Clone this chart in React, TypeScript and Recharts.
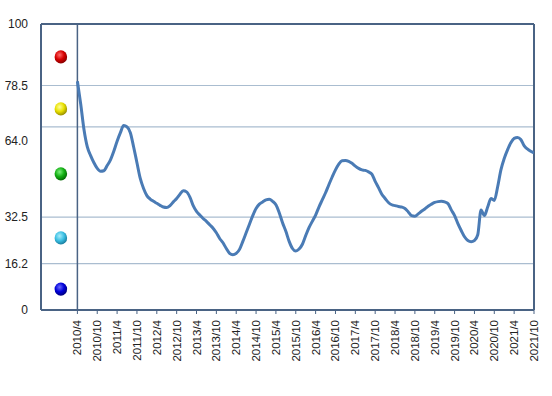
import { ComposedChart, Line, XAxis, YAxis, CartesianGrid, ReferenceLine, ReferenceDot } from 'recharts'

const FONT = "'Liberation Sans', Arial, sans-serif"
const FRAME = '#4a6384'
const GRID = '#aabdd0'
const LINE = '#4a7bb5'

// monthly index, 2010/4 = 0 ... 2021/10 = 138
const monthlyValues = [
  80, 72, 63, 57, 54, 51.5, 49.5, 48.5, 48.7, 50.5,
  52.5, 55.5, 59, 62, 64.5, 64, 62, 57, 51.5, 46,
  42.5, 40, 38.8, 38, 37.3, 36.6, 36, 35.8, 36.5, 37.8,
  39, 40.5, 41.7, 41.3, 39.5, 36.5, 34.5, 33.2, 32, 31,
  29.8, 28.6, 27, 25, 23.5, 21.5, 19.8, 19.3, 19.8, 21.2,
  24, 27, 30, 33, 35.5, 37, 37.8, 38.5, 38.7, 38,
  36.8, 34, 30.5, 27.5, 24, 21.5, 20.6, 21.3, 23, 26,
  28.8, 31, 33.2, 36, 38.5, 41, 43.8, 46.5, 49, 51,
  52.2, 52.3, 52, 51.3, 50.3, 49.5, 49, 48.8, 48.3, 47.5,
  45, 42.8, 40.5, 39, 37.6, 36.8, 36.5, 36.2, 36, 35.5,
  34.3, 33, 32.8, 33.6, 34.5, 35.3, 36.3, 37, 37.6, 37.9,
  38, 37.8, 37.2, 35, 33, 30.2, 27.8, 25.6, 24.3, 23.9,
  24.3, 26.3, 35, 33, 36, 39, 38.3, 43, 49, 53,
  56, 58.5, 60, 60.3, 59.6, 57.5, 56.3, 55.5, 54.9,
]

const tickLabels = [
  '2010/4', '2010/10', '2011/4', '2011/10', '2012/4', '2012/10',
  '2013/4', '2013/10', '2014/4', '2014/10', '2015/4', '2015/10',
  '2016/4', '2016/10', '2017/4', '2017/10', '2018/4', '2018/10',
  '2019/4', '2019/10', '2020/4', '2020/10', '2021/4', '2021/10',
]

const yTicks = [0, 16.2, 32.5, 64, 78.5, 100]
const yLabels = ['0', '16.2', '32.5', '64.0', '78.5', '100']

// decorative colored balls at the left of the plot
const markerLevels = [88.5, 70.3, 47.6, 25.2, 7.3]
const markerColors = [
  ['#ff6a6a', '#d60000', '#8a0000'],
  ['#ffff9a', '#e8e000', '#9a9000'],
  ['#7df07d', '#14b014', '#066a06'],
  ['#a8ecfa', '#3cc0e4', '#1a7fa0'],
  ['#6a6aff', '#0000d8', '#000080'],
]

const data = monthlyValues.map((v, i) => ({ m: i, v }))
const xTicks = tickLabels.map((_, i) => i * 6)

function XTick({ x, y, payload }: any) {
  return (
    <text
      x={x}
      y={y}
      transform={`rotate(-90, ${x}, ${y})`}
      textAnchor="end"
      dy="0.35em"
      fontSize={11.5}
      fontFamily={FONT}
      fill="#222"
    >
      {tickLabels[Math.round(payload.value / 6)]}
    </text>
  )
}

function YTick({ x, y, payload }: any) {
  const idx = yTicks.indexOf(payload.value)
  // the 64.0 label sits below its gridline in the original
  const shift = payload.value === 64 ? 14 : 0
  return (
    <text x={x - 5} y={y + shift} textAnchor="end" dy="0.35em" fontSize={12} fontFamily={FONT} fill="#222">
      {yLabels[idx]}
    </text>
  )
}

function Ball({ cx, cy, idx }: any) {
  const [hi, mid, lo] = markerColors[idx]
  const id = `ball-${idx}`
  return (
    <g>
      <defs>
        <radialGradient id={id} cx="40%" cy="35%" r="65%">
          <stop offset="0%" stopColor={hi} />
          <stop offset="55%" stopColor={mid} />
          <stop offset="100%" stopColor={lo} />
        </radialGradient>
      </defs>
      <ellipse cx={cx} cy={cy} rx={6.3} ry={6.6} fill={`url(#${id})`} />
    </g>
  )
}

export default function App() {
  return (
    <div style={{ position: 'absolute', left: 0, top: 0, width: 552, height: 396, background: '#fff' }}>
      <ComposedChart width={552} height={396} data={data} margin={{ top: 24, right: 18, left: 0, bottom: 26 }}>
        <CartesianGrid vertical={false} stroke={GRID} strokeWidth={1.2} />
        <XAxis
          dataKey="m"
          type="number"
          domain={[-11, 138]}
          ticks={xTicks}
          interval={0}
          height={60}
          tickSize={4}
          tickMargin={6}
          tick={<XTick />}
          axisLine={{ stroke: FRAME, strokeWidth: 2 }}
          tickLine={{ stroke: FRAME }}
          allowDataOverflow
        />
        <YAxis
          type="number"
          domain={[0, 100]}
          ticks={yTicks}
          interval={0}
          width={41}
          tickLine={false}
          tick={<YTick />}
          axisLine={{ stroke: FRAME, strokeWidth: 2 }}
        />
        <ReferenceLine y={100} stroke={FRAME} strokeWidth={2} />
        <ReferenceLine x={138} stroke={FRAME} strokeWidth={2} />
        <ReferenceLine x={0} stroke={FRAME} strokeWidth={1.5} />
        {markerLevels.map((lvl, i) => (
          <ReferenceDot
            key={i}
            x={-5}
            y={lvl}
            r={6.5}
            shape={(p: any) => <Ball cx={p.cx} cy={p.cy} idx={i} />}
          />
        ))}
        <Line
          type="monotone"
          dataKey="v"
          stroke={LINE}
          strokeWidth={3}
          dot={false}
          isAnimationActive={false}
        />
      </ComposedChart>
    </div>
  )
}
